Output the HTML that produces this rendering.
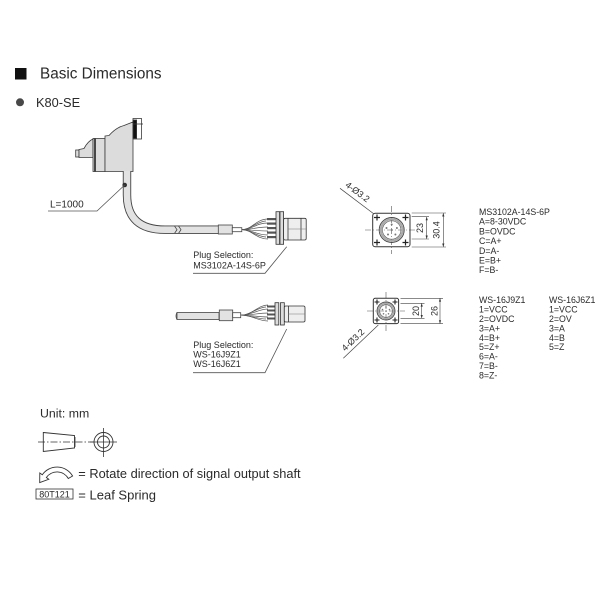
<!DOCTYPE html>
<html><head><meta charset="utf-8"><style>
html,body{margin:0;padding:0;background:#fff;}
svg{display:block;}
text{font-family:"Liberation Sans",Arial,sans-serif;fill:#2a2a2a;}
</style></head><body>
<svg width="600" height="600" viewBox="0 0 600 600" xmlns="http://www.w3.org/2000/svg">
<rect width="600" height="600" fill="#fff"/>

<!-- Header -->
<rect x="15" y="68" width="11.5" height="11.5" fill="#111"/>
<text x="40" y="78.4" font-size="15.3">Basic Dimensions</text>
<circle cx="20" cy="102.3" r="4" fill="#484848"/>
<text x="36" y="106.8" font-size="12.8">K80-SE</text>

<!-- Encoder body -->
<g stroke="#3a3a3a" stroke-width="0.8" fill="#dcdcdc">
  <rect x="75.7" y="150" width="3.3" height="7"/>
  <path d="M79,149.5 L84,148.5 Q88,141 93,139 L93,157.5 L79,157.5 Z"/>
  <rect x="93" y="138.5" width="12" height="33"/>
  <path d="M105,136 L109,135.5 C113,131 118,127 124,125.5 L133,122 L133,171.5 L105,171.5 Z"/>
  <rect x="133" y="118.5" width="8.5" height="20.5" fill="#fff"/>
  <rect x="133" y="120" width="3.6" height="18.5" fill="#111"/>
  <line x1="133" y1="124" x2="143" y2="124"/>
</g>
<line x1="95" y1="138.5" x2="95" y2="171.5" stroke="#222" stroke-width="1.6"/>

<!-- Cable 1 -->
<path d="M127,171 L127,195 Q127,229.7 165,229.7 L219,229.7" fill="none" stroke="#444" stroke-width="8.4"/>
<path d="M127,171 L127,195 Q127,229.7 165,229.7 L219,229.7" fill="none" stroke="#e2e2e2" stroke-width="6.6"/>
<path d="M174.5,226 L177,229.7 L174.5,233.4 M178.5,226 L181,229.7 L178.5,233.4" fill="none" stroke="#444" stroke-width="0.8"/>
<rect x="218.3" y="225" width="14" height="9" fill="#e2e2e2" stroke="#444" stroke-width="0.8"/>
<rect x="232.3" y="227.7" width="9.5" height="4" fill="#fff" stroke="#444" stroke-width="0.8"/>
<g fill="none" stroke="#555" stroke-width="0.7">
  <path d="M242,229.7 C252,229.7 256,219 268,219"/>
  <path d="M242,229.7 C252,229.7 256,223 268,223"/>
  <path d="M242,229.7 C252,229.7 256,227 268,227"/>
  <path d="M242,229.7 C252,229.7 256,231 268,231"/>
  <path d="M242,229.7 C252,229.7 256,235 268,235"/>
  <path d="M242,229.7 C252,229.7 256,239 268,239"/>
  <path d="M242,229.7 C250,229.7 258,221 266,221"/>
  <path d="M242,229.7 C250,229.7 258,237 266,237"/>
</g>
<g fill="#555">
  <rect x="267" y="218" width="9" height="2.2"/>
  <rect x="267" y="222.5" width="9" height="2.2"/>
  <rect x="267" y="227" width="9" height="2.2"/>
  <rect x="267" y="231.5" width="9" height="2.2"/>
  <rect x="267" y="236" width="9" height="2.2"/>
</g>
<g stroke="#333" stroke-width="0.8">
  <rect x="276" y="211.7" width="3.6" height="32.6" fill="#ddd"/>
  <rect x="280" y="211.7" width="3.6" height="32.6" fill="#ddd"/>
  <rect x="283.6" y="218.3" width="22.6" height="21.7" rx="1.5" fill="#eee"/>
  <line x1="288" y1="218.3" x2="288" y2="240"/>
  <line x1="301" y1="218.3" x2="301" y2="240"/>
</g>
<line x1="288" y1="229" x2="306" y2="229" stroke="#777" stroke-width="0.5"/>

<!-- L=1000 leader -->
<circle cx="124.7" cy="185" r="2.3" fill="#333"/>
<polyline points="124.7,185 97,211 48,211" fill="none" stroke="#555" stroke-width="0.8"/>
<text x="50" y="207.6" font-size="10">L=1000</text>

<!-- Plug selection 1 -->
<polyline points="286.7,246.7 265,273.3 193,273.3" fill="none" stroke="#555" stroke-width="0.8"/>
<text x="193.3" y="258.2" font-size="9">Plug Selection:</text>
<text x="193.3" y="268.3" font-size="9">MS3102A-14S-6P</text>

<!-- Cable 2 -->
<rect x="177" y="312.5" width="42" height="7" fill="#e2e2e2" stroke="#444" stroke-width="0.8"/>
<path d="M177,312.5 Q175,316 177,319.5" fill="none" stroke="#444" stroke-width="0.8"/>
<rect x="219.3" y="310" width="13.4" height="10.7" fill="#e2e2e2" stroke="#444" stroke-width="0.8"/>
<rect x="232.7" y="312.7" width="8" height="5" fill="#fff" stroke="#444" stroke-width="0.8"/>
<g fill="none" stroke="#555" stroke-width="0.7">
  <path d="M241,315.2 C252,315.2 258,305 268,305"/>
  <path d="M241,315.2 C252,315.2 258,309 268,309"/>
  <path d="M241,315.2 C252,315.2 258,313 268,313"/>
  <path d="M241,315.2 C252,315.2 258,317 268,317"/>
  <path d="M241,315.2 C252,315.2 258,321 268,321"/>
  <path d="M241,315.2 C250,315.2 258,307 266,307"/>
  <path d="M241,315.2 C250,315.2 258,319 266,319"/>
</g>
<g fill="#555">
  <rect x="267" y="305.5" width="8" height="2"/>
  <rect x="267" y="309.5" width="8" height="2"/>
  <rect x="267" y="313.5" width="8" height="2"/>
  <rect x="267" y="317.5" width="8" height="2"/>
</g>
<g stroke="#333" stroke-width="0.8">
  <rect x="275" y="302.7" width="3.8" height="22.3" fill="#ddd"/>
  <rect x="280.5" y="302.7" width="3.8" height="22.3" fill="#ddd"/>
  <rect x="284.3" y="306" width="20.7" height="16" rx="1.5" fill="#eee"/>
  <line x1="288.5" y1="306" x2="288.5" y2="322"/>
</g>
<line x1="288" y1="314" x2="305" y2="314" stroke="#777" stroke-width="0.5"/>

<!-- Plug selection 2 -->
<polyline points="286.7,329 265,372.7 193,372.7" fill="none" stroke="#555" stroke-width="0.8"/>
<text x="193.3" y="348.2" font-size="9">Plug Selection:</text>
<text x="193.3" y="357.5" font-size="9">WS-16J9Z1</text>
<text x="193.3" y="367.2" font-size="9">WS-16J6Z1</text>

<!-- Face view 1 -->
<g stroke="#555" stroke-width="0.6" stroke-dasharray="6,2,1,2">
  <line x1="365" y1="230" x2="417" y2="230"/>
  <line x1="391.7" y1="206" x2="391.7" y2="254"/>
</g>
<rect x="372.7" y="213.3" width="37.3" height="33.4" rx="2.5" fill="none" stroke="#333" stroke-width="1"/>
<circle cx="391.7" cy="230" r="12.5" fill="none" stroke="#444" stroke-width="0.9"/>
<circle cx="391.7" cy="230" r="10.8" fill="none" stroke="#aaa" stroke-width="2.2"/>
<circle cx="391.7" cy="230" r="9.2" fill="none" stroke="#555" stroke-width="0.6"/>
<g fill="#777">
  <circle cx="391.7" cy="224.5" r="1"/><circle cx="386.5" cy="228" r="1"/><circle cx="396.9" cy="228" r="1"/>
  <circle cx="388" cy="234.5" r="1"/><circle cx="395.4" cy="234.5" r="1"/><circle cx="391.7" cy="230" r="1"/>
</g>
<g stroke="#222" stroke-width="1.2">
  <path d="M374,217.5 h6 M377,214.5 v6"/>
  <path d="M402.5,217.5 h6 M405.5,214.5 v6"/>
  <path d="M374,242.5 h6 M377,239.5 v6"/>
  <path d="M402.5,242.5 h6 M405.5,239.5 v6"/>
</g>
<g stroke="#444" stroke-width="0.6">
  <line x1="411.7" y1="213" x2="446" y2="213"/>
  <line x1="411.7" y1="247" x2="446" y2="247"/>
  <line x1="411.7" y1="216.7" x2="429" y2="216.7"/>
  <line x1="411.7" y1="239" x2="429" y2="239"/>
  <line x1="426.7" y1="216.7" x2="426.7" y2="239"/>
  <line x1="443.3" y1="213" x2="443.3" y2="247"/>
</g>
<g fill="#333">
  <path d="M426.7,216.7 l-1.1,3.5 h2.2 Z"/><path d="M426.7,239 l-1.1,-3.5 h2.2 Z"/>
  <path d="M443.3,213 l-1.1,3.5 h2.2 Z"/><path d="M443.3,247 l-1.1,-3.5 h2.2 Z"/>
</g>
<text transform="translate(423.2,228) rotate(-90)" text-anchor="middle" font-size="9">23</text>
<text transform="translate(439.7,230) rotate(-90)" text-anchor="middle" font-size="9">30.4</text>
<line x1="340" y1="188.3" x2="374" y2="214" stroke="#444" stroke-width="0.7"/>
<text transform="translate(357.5,192) rotate(37)" text-anchor="middle" dy="3" font-size="9">4-Ø3.2</text>

<!-- Text block 1 -->
<g font-size="8.8">
  <text x="479" y="215">MS3102A-14S-6P</text>
  <text x="479" y="224.7">A=8-30VDC</text>
  <text x="479" y="234.4">B=OVDC</text>
  <text x="479" y="244.1">C=A+</text>
  <text x="479" y="253.8">D=A-</text>
  <text x="479" y="263.5">E=B+</text>
  <text x="479" y="273.2">F=B-</text>
</g>

<!-- Face view 2 -->
<g stroke="#555" stroke-width="0.6" stroke-dasharray="6,2,1,2">
  <line x1="367" y1="311" x2="405" y2="311"/>
  <line x1="386" y1="292" x2="386" y2="331"/>
</g>
<rect x="373.3" y="298.3" width="25.3" height="25.3" rx="2" fill="none" stroke="#333" stroke-width="1"/>
<circle cx="386" cy="311" r="9" fill="none" stroke="#444" stroke-width="0.9"/>
<circle cx="386" cy="311" r="7.6" fill="none" stroke="#aaa" stroke-width="1.8"/>
<circle cx="386" cy="311" r="6.3" fill="none" stroke="#555" stroke-width="0.6"/>
<g fill="#777">
  <circle cx="386" cy="307" r="0.8"/><circle cx="382.5" cy="309.5" r="0.8"/><circle cx="389.5" cy="309.5" r="0.8"/>
  <circle cx="383.5" cy="313.8" r="0.8"/><circle cx="388.5" cy="313.8" r="0.8"/><circle cx="386" cy="311" r="0.8"/>
</g>
<g stroke="#222" stroke-width="1.1">
  <path d="M374.5,302 h5 M377,299.5 v5"/>
  <path d="M392.5,302 h5 M395,299.5 v5"/>
  <path d="M374.5,320 h5 M377,317.5 v5"/>
  <path d="M392.5,320 h5 M395,317.5 v5"/>
</g>
<g stroke="#444" stroke-width="0.6">
  <line x1="400.5" y1="298.3" x2="443" y2="298.3"/>
  <line x1="400.5" y1="323.6" x2="443" y2="323.6"/>
  <line x1="400.5" y1="303.3" x2="424.5" y2="303.3"/>
  <line x1="400.5" y1="318.3" x2="424.5" y2="318.3"/>
  <line x1="421.7" y1="303.3" x2="421.7" y2="318.3"/>
  <line x1="440" y1="298.3" x2="440" y2="323.6"/>
</g>
<g fill="#333">
  <path d="M421.7,303.3 l-1.1,3.3 h2.2 Z"/><path d="M421.7,318.3 l-1.1,-3.3 h2.2 Z"/>
  <path d="M440,298.3 l-1.1,3.3 h2.2 Z"/><path d="M440,323.6 l-1.1,-3.3 h2.2 Z"/>
</g>
<text transform="translate(419.2,311) rotate(-90)" text-anchor="middle" font-size="9">20</text>
<text transform="translate(437.5,311) rotate(-90)" text-anchor="middle" font-size="9">26</text>
<line x1="378.3" y1="325" x2="343.3" y2="358.3" stroke="#444" stroke-width="0.7"/>
<text transform="translate(353,340) rotate(-43.6)" text-anchor="middle" dy="3" font-size="9">4-Ø3.2</text>

<!-- Text block 2 -->
<g font-size="8.8">
  <text x="479" y="303.2">WS-16J9Z1</text>
  <text x="479" y="312.6">1=VCC</text>
  <text x="479" y="322">2=OVDC</text>
  <text x="479" y="331.4">3=A+</text>
  <text x="479" y="340.8">4=B+</text>
  <text x="479" y="350.2">5=Z+</text>
  <text x="479" y="359.6">6=A-</text>
  <text x="479" y="369">7=B-</text>
  <text x="479" y="378.4">8=Z-</text>
  <text x="549" y="303.2">WS-16J6Z1</text>
  <text x="549" y="312.6">1=VCC</text>
  <text x="549" y="322">2=OV</text>
  <text x="549" y="331.4">3=A</text>
  <text x="549" y="340.8">4=B</text>
  <text x="549" y="350.2">5=Z</text>
</g>

<!-- Legend -->
<text x="40" y="417.6" font-size="12.3">Unit: mm</text>
<polygon points="43.3,432.5 74.5,435.5 74.5,448 43.3,451.5" fill="none" stroke="#333" stroke-width="0.9"/>
<line x1="38" y1="442" x2="94" y2="442" stroke="#333" stroke-width="0.7" stroke-dasharray="7,2,1.5,2"/>
<line x1="75" y1="437" x2="75" y2="447" stroke="#333" stroke-width="0.8"/>
<circle cx="103.5" cy="442" r="9.5" fill="none" stroke="#333" stroke-width="0.9"/>
<circle cx="103.5" cy="442" r="6" fill="none" stroke="#333" stroke-width="0.9"/>
<line x1="103.5" y1="428" x2="103.5" y2="457" stroke="#333" stroke-width="0.8"/>
<line x1="90" y1="442" x2="117" y2="442" stroke="#333" stroke-width="0.8"/>
<path d="M72.6,476 A18,18 0 0 0 42.3,474.7 L39.8,473 L39.7,482.6 L48.8,479.3 L46.35,477.5 A13,13 0 0 1 68.3,478.5 Z" fill="#fff" stroke="#333" stroke-width="0.9"/>
<text x="78.3" y="478" font-size="12.8">= Rotate direction of signal output shaft</text>
<rect x="36" y="489" width="37" height="10" fill="none" stroke="#333" stroke-width="0.8"/>
<text x="54.5" y="497.5" font-size="9" text-anchor="middle">80T121</text>
<text x="78.3" y="499.7" font-size="13">= Leaf Spring</text>
</svg>
</body></html>
